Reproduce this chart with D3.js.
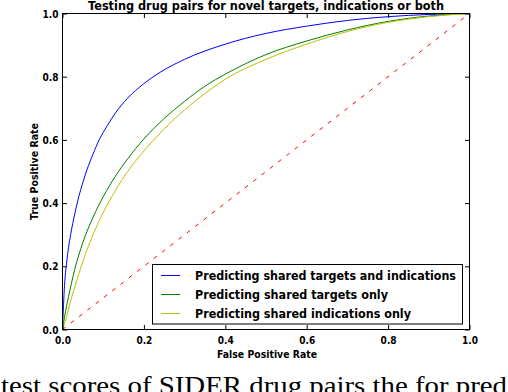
<!DOCTYPE html>
<html><head><meta charset="utf-8">
<script src="https://cdn.jsdelivr.net/npm/d3@7"></script>
<style>body{margin:0;background:#fff}svg{display:block}</style>
</head><body>
<script>
const titleText = "Testing drug pairs for novel targets, indications or both";
const xLabel = "False Positive Rate";
const yLabel = "True Positive Rate";
const caption = "test scores of SIDER drug pairs the for pred";
const tickValues = [0, 0.2, 0.4, 0.6, 0.8, 1.0];
const seriesNames = ["Predicting shared targets and indications", "Predicting shared targets only", "Predicting shared indications only"];
const seriesColors = ["#0000ff", "#008000", "#bfbf00"];
const bothROC = [[0,0],[0.005,0.14],[0.01,0.21],[0.02,0.30],[0.03,0.365],[0.04,0.42],[0.05,0.465],[0.06,0.505],[0.075,0.555],[0.09,0.60],[0.11,0.645],[0.13,0.685],[0.16,0.732],[0.2,0.778],[0.24,0.814],[0.3,0.855],[0.4,0.903],[0.5,0.937],[0.6,0.96],[0.7,0.978],[0.8,0.99],[0.9,0.997],[1,1]];
const targetsROC = [[0,0],[0.005,0.04],[0.015,0.105],[0.03,0.19],[0.05,0.275],[0.075,0.355],[0.1,0.42],[0.13,0.485],[0.16,0.54],[0.2,0.603],[0.25,0.668],[0.3,0.722],[0.35,0.77],[0.4,0.808],[0.5,0.87],[0.6,0.913],[0.7,0.948],[0.8,0.975],[0.9,0.992],[1,1]];
const indicationsROC = [[0,0],[0.01,0.04],[0.02,0.09],[0.035,0.155],[0.05,0.215],[0.075,0.30],[0.1,0.37],[0.13,0.44],[0.16,0.50],[0.2,0.565],[0.25,0.635],[0.3,0.695],[0.35,0.747],[0.4,0.792],[0.5,0.855],[0.6,0.903],[0.7,0.943],[0.8,0.972],[0.9,0.99],[1,1]];
const chanceROC = [[0,0],[1,1]];
const series = [bothROC, targetsROC, indicationsROC];

const W = 508, H = 392;
const L = 62.5, R = 469.5, T = 13.5, B = 329.5;
const x = d3.scaleLinear().domain([0,1]).range([L,R]);
const y = d3.scaleLinear().domain([0,1]).range([B,T]);
const FONT = "'DejaVu Sans', sans-serif";

const svg = d3.select("body").append("svg").attr("width",W).attr("height",H);

const line = d3.line().x(d=>x(d[0])).y(d=>y(d[1])).curve(d3.curveMonotoneX);

// curves
series.forEach((s,i)=>{
  svg.append("path").datum(s).attr("d",line).attr("fill","none")
    .attr("stroke",seriesColors[i]).attr("stroke-width",1);
});
svg.append("path").datum(chanceROC).attr("d",d3.line().x(d=>x(d[0])).y(d=>y(d[1])))
  .attr("fill","none").attr("stroke","#ff0000").attr("stroke-width",1).attr("stroke-dasharray","4,6.5");

// axes (inward ticks, mirrored)
const fmt = d3.format(".1f");
const gx = svg.append("g").attr("transform",`translate(0,${B})`)
  .call(d3.axisBottom(x).tickValues(tickValues).tickSize(-4.5).tickPadding(7).tickFormat(fmt));
const gy = svg.append("g").attr("transform",`translate(${L},0)`)
  .call(d3.axisLeft(y).tickValues(tickValues).tickSize(-4.5).tickPadding(4).tickFormat(fmt));
const gt = svg.append("g").attr("transform",`translate(0,${T})`)
  .call(d3.axisTop(x).tickValues(tickValues).tickSize(-4.5).tickFormat(""));
const gr = svg.append("g").attr("transform",`translate(${R},0)`)
  .call(d3.axisRight(y).tickValues(tickValues).tickSize(-4.5).tickFormat(""));
[gx,gy,gt,gr].forEach(g=>{
  g.select(".domain").remove();
  g.selectAll(".tick line").attr("stroke","#000").attr("stroke-width",1);
});
[gx,gy].forEach(g=>{
  g.selectAll(".tick text").attr("font-family",FONT).attr("font-weight","bold")
   .attr("font-size",11).attr("fill","#000")
   .attr("textLength",16).attr("lengthAdjust","spacingAndGlyphs");
});
svg.append("rect").attr("x",L).attr("y",T).attr("width",R-L).attr("height",B-T)
  .attr("fill","none").attr("stroke","#000").attr("stroke-width",1);

// title
svg.append("text").attr("x",266).attr("y",10).attr("text-anchor","middle")
  .attr("font-family",FONT).attr("font-weight","bold").attr("font-size",13)
  .attr("textLength",356).attr("lengthAdjust","spacingAndGlyphs").text(titleText);
// axis labels
svg.append("text").attr("x",267).attr("y",358).attr("text-anchor","middle")
  .attr("font-family",FONT).attr("font-weight","bold").attr("font-size",11)
  .attr("textLength",100).attr("lengthAdjust","spacingAndGlyphs").text(xLabel);
svg.append("text").attr("transform","translate(37.5,171.5) rotate(-90)").attr("text-anchor","middle")
  .attr("font-family",FONT).attr("font-weight","bold").attr("font-size",11)
  .attr("textLength",97).attr("lengthAdjust","spacingAndGlyphs").text(yLabel);

// legend
const lg = svg.append("g");
lg.append("rect").attr("x",152.5).attr("y",264.5).attr("width",310).attr("height",59.5)
  .attr("fill","#fff").attr("stroke","#000").attr("stroke-width",1);
const legendWidths = [261,193,216];
seriesNames.forEach((n,i)=>{
  const cy = 275 + i*19;
  lg.append("line").attr("x1",161).attr("x2",180).attr("y1",cy+0.5).attr("y2",cy+0.5)
    .attr("stroke",seriesColors[i]).attr("stroke-width",1);
  lg.append("text").attr("x",195).attr("y",cy+4.5)
    .attr("font-family",FONT).attr("font-weight","bold").attr("font-size",13)
    .attr("textLength",legendWidths[i]).attr("lengthAdjust","spacingAndGlyphs").text(n);
});

// caption
svg.append("text").attr("x",1).attr("y",394)
  .attr("font-family","'Liberation Serif', serif").attr("font-size",25)
  .attr("textLength",506).attr("lengthAdjust","spacingAndGlyphs").text(caption);
</script>
</body></html>
